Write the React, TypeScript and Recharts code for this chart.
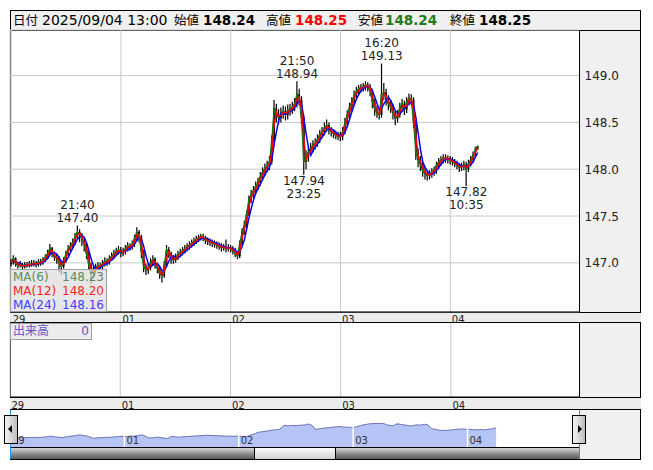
import React from "react";
import {
  Area,
  AreaChart,
  Bar,
  CartesianGrid,
  ComposedChart,
  Line,
  ReferenceDot,
  ReferenceLine,
  XAxis,
  YAxis,
} from "recharts";

const FONT = '"DejaVu Sans", "Noto Sans CJK JP", sans-serif';

// 30-minute bars from 29 07:00 to 04 13:00 (FX day starts at 07:00)
const dayLabels = ["29", "01", "02", "03", "04"];
const dayStarts = [0, 48, 96, 144, 192];
const priceTicks = [147.0, 147.5, 148.0, 148.5, 149.0];

const close29 = [
  147.0, 147.05, 146.99, 146.97, 146.98, 146.96, 146.98, 146.97, 146.99, 146.98,
  147.0, 146.98, 147.01, 147.0, 147.03, 147.06, 147.1, 147.16, 147.1, 147.06,
  147.05, 147.0, 146.96, 147.02, 147.1, 147.15, 147.18, 147.22, 147.28, 147.33,
  147.3, 147.25, 147.2, 147.1, 146.98, 146.88, 146.92, 146.95, 146.97, 146.96,
  146.99, 147.02, 147.0, 147.04, 147.07, 147.1, 147.12, 147.14,
];
const high29 = [
  147.04, 147.08, 147.06, 147.01, 147.02, 147.0, 147.01, 147.01, 147.02, 147.03,
  147.03, 147.02, 147.04, 147.04, 147.06, 147.09, 147.14, 147.2, 147.17, 147.12,
  147.09, 147.07, 147.02, 147.06, 147.13, 147.19, 147.22, 147.26, 147.32, 147.4,
  147.36, 147.32, 147.28, 147.22, 147.12, 147.0, 146.96, 146.99, 147.01, 147.0,
  147.03, 147.06, 147.05, 147.08, 147.11, 147.14, 147.16, 147.18,
];
const low29 = [
  146.96, 146.98, 146.96, 146.94, 146.95, 146.93, 146.94, 146.95, 146.95, 146.96,
  146.96, 146.95, 146.96, 146.97, 146.98, 147.01, 147.04, 147.08, 147.06, 147.02,
  146.99, 146.9, 146.87, 146.94, 147.0, 147.07, 147.12, 147.15, 147.19, 147.25,
  147.22, 147.18, 147.12, 147.04, 146.92, 146.78, 146.84, 146.89, 146.92, 146.92,
  146.93, 146.96, 146.97, 146.98, 147.02, 147.05, 147.07, 147.09,
];

const close01 = [
  147.1, 147.12, 147.15, 147.18, 147.17, 147.2, 147.26, 147.33, 147.28, 147.12,
  146.96, 146.92, 146.95, 147.0, 147.04, 146.98, 146.94, 146.88, 146.86, 146.98,
  147.14, 147.1, 147.04, 147.03, 147.06, 147.09, 147.11, 147.13, 147.15, 147.17,
  147.19, 147.21, 147.23, 147.25, 147.27, 147.28, 147.27, 147.24, 147.23, 147.22,
  147.21, 147.2, 147.19, 147.18, 147.16, 147.17, 147.15, 147.16,
];
const high01 = [
  147.17, 147.16, 147.19, 147.22, 147.21, 147.24, 147.3, 147.38, 147.35, 147.3,
  147.14, 146.99, 146.99, 147.05, 147.08, 147.06, 147.0, 146.97, 146.91, 147.02,
  147.19, 147.17, 147.12, 147.07, 147.1, 147.13, 147.15, 147.17, 147.19, 147.21,
  147.23, 147.25, 147.27, 147.29, 147.3, 147.31, 147.31, 147.29, 147.27, 147.26,
  147.25, 147.24, 147.23, 147.22, 147.21, 147.2, 147.25, 147.2,
];
const low01 = [
  147.06, 147.07, 147.09, 147.12, 147.13, 147.14, 147.17, 147.23, 147.22, 147.05,
  146.9, 146.87, 146.88, 146.92, 146.97, 146.94, 146.89, 146.83, 146.79, 146.84,
  146.96, 147.05, 146.99, 146.99, 147.0, 147.03, 147.06, 147.08, 147.1, 147.12,
  147.14, 147.16, 147.18, 147.2, 147.22, 147.24, 147.23, 147.2, 147.19, 147.18,
  147.17, 147.16, 147.15, 147.14, 147.12, 147.13, 147.11, 147.12,
];

const close02 = [
  147.15, 147.13, 147.1, 147.07, 147.2, 147.33, 147.4, 147.52, 147.68, 147.73,
  147.77, 147.82, 147.86, 147.92, 147.97, 148.01, 148.04, 148.08, 148.3, 148.65,
  148.58, 148.55, 148.6, 148.62, 148.58, 148.63, 148.64, 148.66, 148.7, 148.8,
  148.74, 148.55, 148.08, 148.12, 148.18, 148.22, 148.26, 148.28, 148.32, 148.37,
  148.4, 148.44, 148.47, 148.42, 148.4, 148.38, 148.36, 148.35,
];
const high02 = [
  147.19, 147.18, 147.16, 147.12, 147.24, 147.37, 147.45, 147.56, 147.72, 147.78,
  147.82, 147.87, 147.91, 147.97, 148.02, 148.06, 148.09, 148.14, 148.36, 148.74,
  148.7, 148.64, 148.66, 148.68, 148.67, 148.69, 148.7, 148.72, 148.76, 148.94,
  148.86, 148.78, 148.58, 148.2, 148.24, 148.28, 148.31, 148.33, 148.37, 148.42,
  148.45, 148.5, 148.53, 148.5, 148.45, 148.43, 148.41, 148.4,
];
const low02 = [
  147.11, 147.09, 147.06, 147.04, 147.05, 147.18, 147.3, 147.37, 147.5, 147.64,
  147.69, 147.73, 147.78, 147.82, 147.88, 147.93, 147.97, 147.99, 148.05, 148.26,
  148.5, 148.48, 148.5, 148.54, 148.52, 148.53, 148.57, 148.59, 148.62, 148.66,
  148.68, 148.48, 147.94, 148.0, 148.08, 148.14, 148.18, 148.21, 148.24, 148.28,
  148.33, 148.36, 148.4, 148.37, 148.35, 148.33, 148.32, 148.31,
];

const close03 = [
  148.35, 148.4, 148.5, 148.58, 148.66, 148.72, 148.79, 148.83, 148.86, 148.87,
  148.88, 148.9, 148.88, 148.84, 148.72, 148.64, 148.6, 148.58, 148.8, 148.82,
  148.75, 148.7, 148.66, 148.6, 148.54, 148.58, 148.66, 148.7, 148.64, 148.72,
  148.76, 148.74, 148.5, 148.18, 148.1, 148.05, 147.98, 147.95, 147.93, 147.95,
  147.97, 147.99, 148.04, 148.08, 148.1, 148.12, 148.12, 148.11,
];
const high03 = [
  148.4, 148.45, 148.55, 148.63, 148.71, 148.77, 148.84, 148.88, 148.9, 148.91,
  148.92, 148.94, 148.93, 148.91, 148.86, 148.75, 148.68, 148.64, 149.13, 148.92,
  148.86, 148.79, 148.74, 148.7, 148.63, 148.63, 148.71, 148.75, 148.73, 148.77,
  148.81, 148.8, 148.77, 148.53, 148.22, 148.14, 148.08, 148.02, 147.99, 147.99,
  148.01, 148.03, 148.08, 148.12, 148.14, 148.16, 148.16, 148.15,
];
const low03 = [
  148.3, 148.31, 148.37, 148.46, 148.54, 148.62, 148.68, 148.75, 148.79, 148.82,
  148.83, 148.84, 148.83, 148.78, 148.65, 148.57, 148.55, 148.53, 148.55, 148.74,
  148.68, 148.63, 148.6, 148.53, 148.47, 148.5, 148.55, 148.62, 148.58, 148.6,
  148.68, 148.68, 148.44, 148.1, 148.02, 147.98, 147.92, 147.89, 147.88, 147.89,
  147.91, 147.93, 147.95, 148.0, 148.04, 148.06, 148.07, 148.06,
];

const close04 = [148.09, 148.08, 148.06, 148.04, 148.02, 148.03, 148.05, 148.0, 148.06, 148.1, 148.15, 148.21, 148.25];
const high04 = [148.14, 148.13, 148.11, 148.09, 148.07, 148.07, 148.09, 148.08, 148.1, 148.14, 148.19, 148.24, 148.25];
const low04 = [148.05, 148.04, 148.02, 148.0, 147.97, 147.98, 147.99, 147.82, 147.97, 148.03, 148.07, 148.12, 148.21];

// high / low markers on the chart
const markSlots = [29, 125, 128, 162, 199];
const markPrices = [147.4, 148.94, 147.94, 149.13, 147.82];
const markTimes = ["21:40", "21:50", "23:25", "16:20", "10:35"];
const markAbove = [true, true, false, true, false];

const maPeriods = [6, 12, 24];
const maColors = ["#0a7a0a", "#ff0000", "#0000ff"];
const maTextColors = ["#5b8c5b", "#ff2020", "#4040ff"];
const maValues = ["148.23", "148.20", "148.16"];

const closes = [...close29, ...close01, ...close02, ...close03, ...close04];
const highs = [...high29, ...high01, ...high02, ...high03, ...high04];
const lows = [...low29, ...low01, ...low02, ...low03, ...low04];

const SLOTS = 249;
const NAV_SLOTS = 240;
// the MA periods count 5-minute bars; one slot here holds six of them
const maWindows = maPeriods.map((p) => Math.max(1, Math.round((p * 5) / 30)));

function movingAverage(values: number[], n: number) {
  return values.map((_, i) => {
    const from = Math.max(0, i - n + 1);
    const part = values.slice(from, i + 1);
    return part.reduce((a, b) => a + b, 0) / part.length;
  });
}

const maSeries = maWindows.map((w) => movingAverage(closes, w));

const rows = Array.from({ length: SLOTS }, (_, i) => {
  if (i >= closes.length) return { t: i };
  return {
    t: i,
    open: i === 0 ? closes[0] : closes[i - 1],
    close: closes[i],
    high: highs[i],
    low: lows[i],
    range: [lows[i], highs[i]],
    ma0: maSeries[0][i],
    ma1: maSeries[1][i],
    ma2: maSeries[2][i],
  };
});

const navRows = Array.from({ length: NAV_SLOTS }, (_, i) => (i < closes.length ? { t: i, close: closes[i] } : { t: i }));

function Candle(props: any) {
  const { x, y, width, height, payload } = props;
  if (!payload || payload.high == null) return null;
  const top = Math.min(y, y + height);
  const h = Math.abs(height);
  const span = payload.high - payload.low || 0.0001;
  const toY = (v: number) => top + ((payload.high - v) / span) * h;
  const cx = x + width / 2;
  const b1 = toY(Math.max(payload.open, payload.close));
  const b2 = toY(Math.min(payload.open, payload.close));
  const bw = Math.max(1.2, width * 0.9);
  return (
    <g>
      <line x1={cx} x2={cx} y1={top} y2={top + h} stroke="#000" strokeWidth={1.2} />
      <rect x={cx - bw / 2} y={b1} width={bw} height={Math.max(1, b2 - b1)} fill="#000" />
    </g>
  );
}

function DayTick(props: any) {
  const { x, y, payload, dy } = props;
  const label = dayLabels[dayStarts.indexOf(payload.value)];
  return (
    <text x={x + 1.5} y={y + (dy ?? 8.5)} fontSize={10} fill="#222" fontFamily={FONT}>
      {label}
    </text>
  );
}

function PriceTick(props: any) {
  const { x, y, payload } = props;
  return (
    <text x={x + 3} y={y + 4.5} fontSize={12} fill="#222" fontFamily={FONT}>
      {Number(payload.value).toFixed(1)}
    </text>
  );
}

function markLabel(time: string, price: number, above: boolean) {
  return (p: any) => {
    const vb = p.viewBox || {};
    const cx = vb.x + (vb.width || 0) / 2;
    const cy = vb.y + (vb.height || 0) / 2;
    const lines = above ? [time, price.toFixed(2)] : [price.toFixed(2), time];
    const base = above ? [cy - 16, cy - 3.5] : [cy + 10, cy + 23];
    return (
      <g>
        {lines.map((s, k) => (
          <text key={k} x={cx} y={base[k]} textAnchor="middle" fontSize={12} fill="#222" fontFamily={FONT}>
            {s}
          </text>
        ))}
      </g>
    );
  };
}

function navLabel(text: string) {
  return (p: any) => {
    const vb = p.viewBox || {};
    return (
      <text x={vb.x + 2} y={34} fontSize={10} fill="#333" fontFamily={FONT}>
        {text}
      </text>
    );
  };
}

const box = (style: React.CSSProperties): React.CSSProperties => ({ position: "absolute", boxSizing: "border-box", ...style });

export default function App() {
  return (
    <div style={{ position: "fixed", left: 0, top: 0, width: 653, height: 470, background: "#fff", fontFamily: FONT }}>
      <style>{".recharts-surface{overflow:visible}"}</style>
      {/* frame and panels */}
      <div style={box({ left: 10, top: 10, width: 631, height: 450, background: "#f0f0f0", border: "1px solid #000" })} />
      <div style={box({ left: 10, top: 30, width: 569.5, height: 282, background: "#fff", borderLeft: "1px solid #000" })} />
      <div style={box({ left: 10, top: 312, width: 631, height: 11, background: "#ececec", borderTop: "1px solid #000", borderBottom: "1px solid #000" })} />
      <div style={box({ left: 10, top: 323, width: 569.5, height: 74, background: "#fff", borderLeft: "1px solid #000" })} />
      <div style={box({ left: 10, top: 397, width: 631, height: 13, background: "#ececec", borderTop: "1px solid #000", borderBottom: "1px solid #000" })} />
      <div style={box({ left: 10, top: 410, width: 569.5, height: 38, background: "#fff" })} />

      {/* header */}
      <div style={box({ left: 10, top: 10, width: 631, height: 21, background: "#f0f0f0", border: "1px solid #000" })} />
      <div style={{ position: "absolute", top: 11, height: 19, left: 0, width: 653, lineHeight: "19px", color: "#000", whiteSpace: "nowrap" }}>
        <span style={{ position: "absolute", left: 13, fontSize: 12.5 }}>日付</span>
        <span style={{ position: "absolute", left: 42, fontSize: 14 }}>2025/09/04 13:00</span>
        <span style={{ position: "absolute", left: 174, fontSize: 12.5 }}>始値</span>
        <span style={{ position: "absolute", left: 203, fontSize: 13.5, fontWeight: "bold" }}>148.24</span>
        <span style={{ position: "absolute", left: 266, fontSize: 12.5 }}>高値</span>
        <span style={{ position: "absolute", left: 295, fontSize: 13.5, fontWeight: "bold", color: "#ff0000" }}>148.25</span>
        <span style={{ position: "absolute", left: 358, fontSize: 12.5 }}>安値</span>
        <span style={{ position: "absolute", left: 385, fontSize: 13.5, fontWeight: "bold", color: "#217a21" }}>148.24</span>
        <span style={{ position: "absolute", left: 450, fontSize: 12.5 }}>終値</span>
        <span style={{ position: "absolute", left: 479, fontSize: 13.5, fontWeight: "bold" }}>148.25</span>
      </div>

      {/* price chart */}
      <div style={{ position: "absolute", left: 10, top: 30 }}>
        <ComposedChart width={631} height={293} data={rows} margin={{ top: 0, right: 0, bottom: 0, left: 0 }} barCategoryGap={0} barGap={0}>
          <CartesianGrid stroke="#c8c8c8" />
          <XAxis
            dataKey="t"
            type="category"
            ticks={dayStarts}
            interval={0}
            height={11}
            tickLine={false}
            tickSize={0}
            axisLine={{ stroke: "#000" }}
            tick={<DayTick dy={8.5} />}
          />
          <YAxis
            orientation="right"
            type="number"
            width={61.5}
            domain={[146.475, 149.487]}
            ticks={priceTicks}
            allowDataOverflow
            tickLine={false}
            tickSize={0}
            axisLine={{ stroke: "#000" }}
            tick={<PriceTick />}
          />
          <Bar dataKey="range" shape={<Candle />} isAnimationActive={false} />
          <Line dataKey="ma0" stroke={maColors[0]} strokeWidth={1.5} dot={false} isAnimationActive={false} />
          <Line dataKey="ma2" stroke={maColors[2]} strokeWidth={1.5} dot={false} isAnimationActive={false} />
          <Line dataKey="ma1" stroke={maColors[1]} strokeWidth={1.5} dot={false} isAnimationActive={false} />
          {markSlots.map((s, k) => (
            <ReferenceDot
              key={k}
              x={s}
              y={markPrices[k]}
              r={0}
              fill="none"
              stroke="none"
              label={markLabel(markTimes[k], markPrices[k], markAbove[k])}
            />
          ))}
        </ComposedChart>
      </div>

      {/* MA legend */}
      <div style={box({ left: 10, top: 269, width: 97, height: 43, background: "rgba(222,222,222,0.72)", border: "1px solid #a0a0a0" })}>
        {maPeriods.map((p, k) => (
          <div key={p} style={{ position: "absolute", left: 2, right: 2, top: 0 + k * 14, height: 14, lineHeight: "14px", fontSize: 12, color: maTextColors[k] }}>
            <span>MA({p})</span>
            <span style={{ position: "absolute", right: 0 }}>{maValues[k]}</span>
          </div>
        ))}
      </div>

      {/* volume panel */}
      <div style={{ position: "absolute", left: 10, top: 323 }}>
        <ComposedChart width={631} height={87} data={rows} margin={{ top: 0, right: 0, bottom: 0, left: 0 }}>
          <CartesianGrid stroke="#c8c8c8" horizontal={false} />
          <XAxis
            dataKey="t"
            type="category"
            ticks={dayStarts}
            interval={0}
            height={13}
            tickLine={false}
            tickSize={0}
            axisLine={{ stroke: "#000" }}
            tick={<DayTick dy={9.5} />}
          />
          <YAxis orientation="right" type="number" width={61.5} domain={[0, 1]} tick={false} tickLine={false} axisLine={{ stroke: "#000" }} />
          <Line dataKey="volume" stroke="#6a4fc8" dot={false} isAnimationActive={false} />
        </ComposedChart>
      </div>
      <div style={box({ left: 10, top: 323, width: 82, height: 17, background: "#ececec", border: "1px solid #a0a0a0" })}>
        <span style={{ position: "absolute", left: 2, top: 0, lineHeight: "15px", fontSize: 12, color: "#6a4fc8" }}>出来高</span>
        <span style={{ position: "absolute", right: 2, top: 0, lineHeight: "15px", fontSize: 12, color: "#6a4fc8" }}>0</span>
      </div>

      {/* navigator */}
      <div style={{ position: "absolute", left: 10, top: 410 }}>
        <AreaChart width={569.5} height={37} data={navRows} margin={{ top: 0, right: 0, bottom: 0, left: 0 }}>
          <XAxis dataKey="t" type="category" hide />
          <YAxis type="number" domain={[145.7, 150.7]} hide />
          <Area
            dataKey="close"
            type="linear"
            stroke="#6b6fb8"
            strokeWidth={1}
            fill="#b5c4f5"
            fillOpacity={1}
            dot={false}
            isAnimationActive={false}
          />
          {dayStarts.map((s, k) => (
            <ReferenceLine key={s} x={s} stroke="#fff" strokeWidth={1.5} label={navLabel(dayLabels[k])} />
          ))}
        </AreaChart>
      </div>
      <div style={box({ left: 10, top: 410, width: 1, height: 49, background: "#1aa0e0" })} />
      <div style={box({ left: 579, top: 410, width: 1, height: 49, background: "#1aa0e0" })} />

      {/* scrollbar */}
      <div
        style={box({
          left: 11,
          top: 447,
          width: 568,
          height: 13,
          borderTop: "1px solid #000",
          borderBottom: "1px solid #000",
          background: "linear-gradient(to bottom, #d8d8d8, #8a8a8a 55%, #5a5a5a)",
        })}
      />
      <div
        style={box({
          left: 254,
          top: 447,
          width: 82,
          height: 13,
          border: "1px solid #000",
          background: "linear-gradient(to bottom, #fafafa, #d0d0d0)",
        })}
      />
      <div
        style={box({
          left: 4,
          top: 415,
          width: 14,
          height: 29,
          border: "1px solid #000",
          background: "linear-gradient(to right, #f4f4f4, #bdbdbd)",
        })}
      >
        <div style={{ position: "absolute", left: 3, top: 9, width: 0, height: 0, borderTop: "4px solid transparent", borderBottom: "4px solid transparent", borderRight: "4px solid #000" }} />
      </div>
      <div
        style={box({
          left: 572,
          top: 415,
          width: 14,
          height: 29,
          border: "1px solid #000",
          background: "linear-gradient(to right, #f4f4f4, #bdbdbd)",
        })}
      >
        <div style={{ position: "absolute", left: 5, top: 9, width: 0, height: 0, borderTop: "4px solid transparent", borderBottom: "4px solid transparent", borderLeft: "4px solid #000" }} />
      </div>
    </div>
  );
}
